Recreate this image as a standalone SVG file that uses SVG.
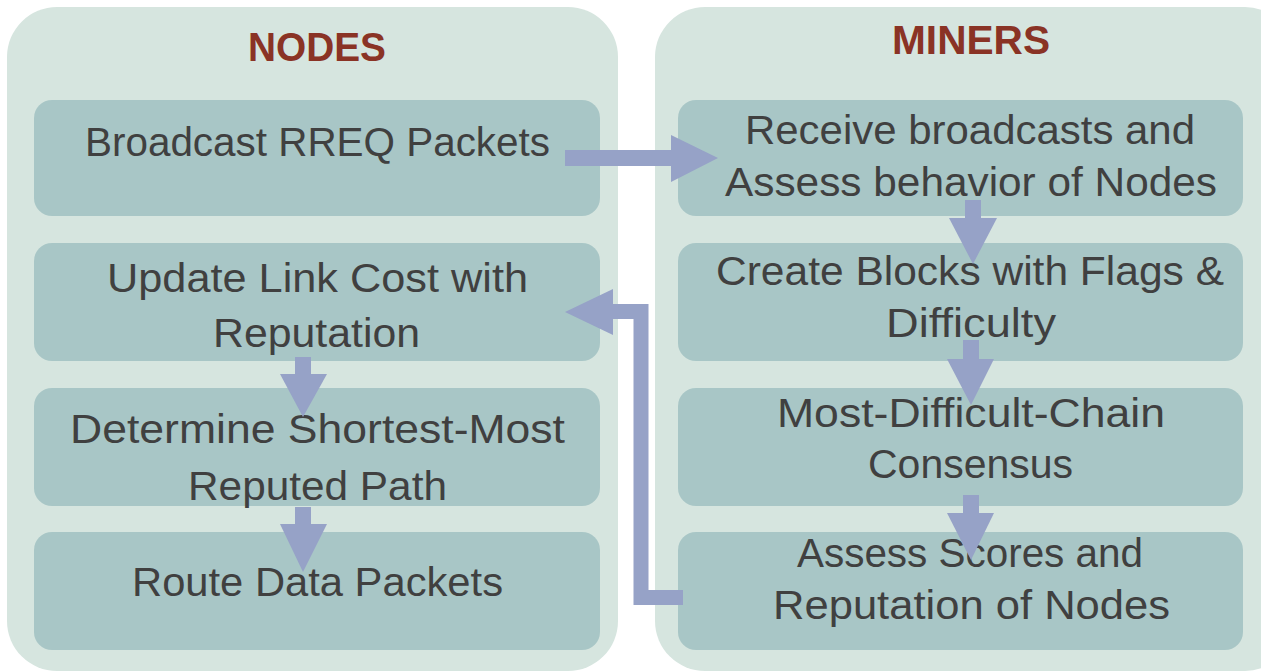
<svg xmlns="http://www.w3.org/2000/svg" width="1261" height="671" viewBox="0 0 1261 671">
  <style>
    .panel { fill: #D6E5DF; }
    .box { fill: #A8C6C6; }
    .head { font-family: "Liberation Sans", Arial, sans-serif; font-weight: bold; font-size: 40px; fill: #8A3325; text-anchor: middle; }
    .lbl { font-family: "Liberation Sans", Arial, sans-serif; font-size: 40px; fill: #404040; text-anchor: middle; }
    .flow { fill: #96A2C7; }
    .flowline { fill: none; stroke: #96A2C7; stroke-width: 15; stroke-linejoin: miter; }
  </style>

  <!-- swimlane panels -->
  <g id="lane-nodes">
    <rect class="panel" x="7" y="7" width="611" height="664" rx="50"/>
    <text class="head" x="317" y="61" textLength="138" lengthAdjust="spacingAndGlyphs">NODES</text>
  </g>
  <g id="lane-miners">
    <rect class="panel" x="655" y="7" width="640" height="664" rx="50"/>
    <text class="head" x="971" y="54" textLength="158" lengthAdjust="spacingAndGlyphs">MINERS</text>
  </g>

  <!-- NODES steps -->
  <g id="broadcast">
    <rect class="box" x="34" y="100" width="566" height="116" rx="18"/>
    <text class="lbl" x="317.5" y="156" textLength="465" lengthAdjust="spacingAndGlyphs">Broadcast RREQ Packets</text>
  </g>
  <g id="update-cost">
    <rect class="box" x="34" y="243" width="566" height="118" rx="18"/>
    <text class="lbl" x="317.5" y="292" textLength="421" lengthAdjust="spacingAndGlyphs">Update Link Cost with</text>
    <text class="lbl" x="316.5" y="347" textLength="207" lengthAdjust="spacingAndGlyphs">Reputation</text>
  </g>
  <g id="shortest-path">
    <rect class="box" x="34" y="388" width="566" height="118" rx="18"/>
    <text class="lbl" x="317.5" y="443" textLength="495" lengthAdjust="spacingAndGlyphs">Determine Shortest-Most</text>
    <text class="lbl" x="317.5" y="500" textLength="259" lengthAdjust="spacingAndGlyphs">Reputed Path</text>
  </g>
  <g id="route-data">
    <rect class="box" x="34" y="532" width="566" height="118" rx="18"/>
    <text class="lbl" x="317.5" y="596" textLength="371" lengthAdjust="spacingAndGlyphs">Route Data Packets</text>
  </g>

  <!-- MINERS steps -->
  <g id="receive">
    <rect class="box" x="678" y="100" width="565" height="116" rx="18"/>
    <text class="lbl" x="970" y="144" textLength="450" lengthAdjust="spacingAndGlyphs">Receive broadcasts and</text>
    <text class="lbl" x="971" y="196" textLength="492" lengthAdjust="spacingAndGlyphs">Assess behavior of Nodes</text>
  </g>
  <g id="create-blocks">
    <rect class="box" x="678" y="243" width="565" height="118" rx="18"/>
    <text class="lbl" x="970" y="285" textLength="508" lengthAdjust="spacingAndGlyphs">Create Blocks with Flags &amp;</text>
    <text class="lbl" x="971" y="337" textLength="170" lengthAdjust="spacingAndGlyphs">Difficulty</text>
  </g>
  <g id="consensus">
    <rect class="box" x="678" y="388" width="565" height="118" rx="18"/>
    <text class="lbl" x="971" y="427" textLength="388" lengthAdjust="spacingAndGlyphs">Most-Difficult-Chain</text>
    <text class="lbl" x="970.5" y="478" textLength="205" lengthAdjust="spacingAndGlyphs">Consensus</text>
  </g>
  <g id="assess-scores">
    <rect class="box" x="678" y="532" width="565" height="118" rx="18"/>
    <text class="lbl" x="970" y="567" textLength="346" lengthAdjust="spacingAndGlyphs">Assess Scores and</text>
    <text class="lbl" x="971.5" y="619" textLength="397" lengthAdjust="spacingAndGlyphs">Reputation of Nodes</text>
  </g>

  <!-- connectors -->
  <g id="connectors">
    <!-- broadcast to miners -->
    <rect class="flow" x="565" y="150" width="108" height="16"/>
    <polygon class="flow" points="671,135 671,182 718,158"/>
    <!-- miners chain -->
    <rect class="flow" x="965" y="200" width="16" height="19"/>
    <polygon class="flow" points="949,218 997,218 973,264"/>
    <rect class="flow" x="963" y="340" width="16" height="20"/>
    <polygon class="flow" points="947,359 994,359 971,405"/>
    <rect class="flow" x="963" y="495" width="16" height="19"/>
    <polygon class="flow" points="947,513 994,513 971,560"/>
    <!-- reputation feedback -->
    <path class="flowline" d="M683,597.5 H641 V311.5 H610"/>
    <polygon class="flow" points="613,289 613,335 565,312"/>
    <!-- nodes chain -->
    <rect class="flow" x="295" y="357" width="16" height="18"/>
    <polygon class="flow" points="280,374 327,374 303,417"/>
    <rect class="flow" x="295" y="507" width="16" height="18"/>
    <polygon class="flow" points="280,524 327,524 303,572"/>
  </g>
</svg>
